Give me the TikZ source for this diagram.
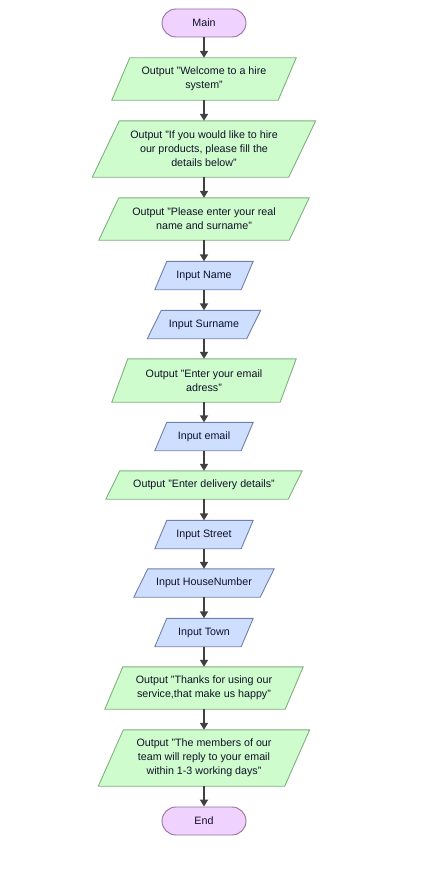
\documentclass[tikz,border=0pt]{standalone}
\usepackage{fontspec}
\setmainfont{Liberation Sans}
\usetikzlibrary{arrows.meta,backgrounds}
\definecolor{outfill}{RGB}{206,252,204}
\definecolor{outline}{RGB}{128,176,128}
\definecolor{infill}{RGB}{206,222,255}
\definecolor{inline}{RGB}{112,128,170}
\definecolor{termfill}{RGB}{240,210,255}
\definecolor{termline}{RGB}{150,112,160}
\definecolor{arrowc}{RGB}{64,64,64}
\definecolor{txtc}{RGB}{16,16,40}
\tikzset{
  txt/.style={draw=none, inner sep=0pt, align=center, text=txtc,
    font=\fontsize{10.7}{14}\selectfont},
  outshape/.style={fill=outfill, draw=outline, line width=0.9pt},
  inshape/.style={fill=infill, draw=inline, line width=0.9pt},
  termbox/.style={txt, rounded corners=14pt, fill=termfill, draw=termline,
    line width=0.9pt, minimum width=84pt, minimum height=28pt},
  flow/.style={draw=arrowc, line width=2pt, -{Triangle[length=7pt,width=8pt]}}
}
% name, y, width, height, slant, shape style, text
\newcommand\iobox[7]{%
  \node[txt, minimum width=#3pt, minimum height=#4pt] (#1) at (204,#2) {#7};
  \begin{scope}[on background layer]
    \draw[#6] ([xshift=#5pt/2]#1.north west) -- ([xshift=#5pt/2]#1.north east)
      -- ([xshift=-#5pt/2]#1.south east) -- ([xshift=-#5pt/2]#1.south west) -- cycle;
  \end{scope}}
\begin{document}
\begin{tikzpicture}[x=1pt,y=-1pt]
\useasboundingbox (0,0) rectangle (443,875);
\node[termbox] (main) at (204,23) {Main};
\iobox{o1}{79}{166}{42}{18}{outshape}{Output "Welcome to a hire\\system"}
\iobox{o2}{149}{196}{56}{27}{outshape}{Output "If you would like to hire\\our products, please fill the\\details below"}
\iobox{o3}{219}{190}{42}{20}{outshape}{Output "Please enter your real\\name and surname"}
\iobox{iname}{275.5}{86}{28}{12}{inshape}{Input Name}
\iobox{isur}{324.5}{99}{28}{14}{inshape}{Input Surname}
\iobox{oemail}{380.5}{168}{43}{16}{outshape}{Output "Enter your email\\adress"}
\iobox{iemail}{436.5}{86}{28}{12}{inshape}{Input email}
\iobox{odel}{485}{182}{28}{14}{outshape}{Output "Enter delivery details"}
\iobox{istreet}{534.5}{86}{28}{12}{inshape}{Input Street}
\iobox{ihouse}{583}{126}{28}{14}{inshape}{Input HouseNumber}
\iobox{itown}{632.5}{86}{28}{12}{inshape}{Input Town}
\iobox{othanks}{688}{180}{42}{18}{outshape}{Output "Thanks for using our\\service,that make us happy"}
\iobox{omem}{758}{186}{56}{25}{outshape}{Output "The members of our\\team will reply to your email\\within 1-3 working days"}
\node[termbox] (end) at (204,821) {End};
\foreach \a/\b in {main/o1,o1/o2,o2/o3,o3/iname,iname/isur,isur/oemail,oemail/iemail,iemail/odel,odel/istreet,istreet/ihouse,ihouse/itown,itown/othanks,othanks/omem,omem/end}
  \draw[flow] (\a.south) -- (\b.north);
\end{tikzpicture}
\end{document}
